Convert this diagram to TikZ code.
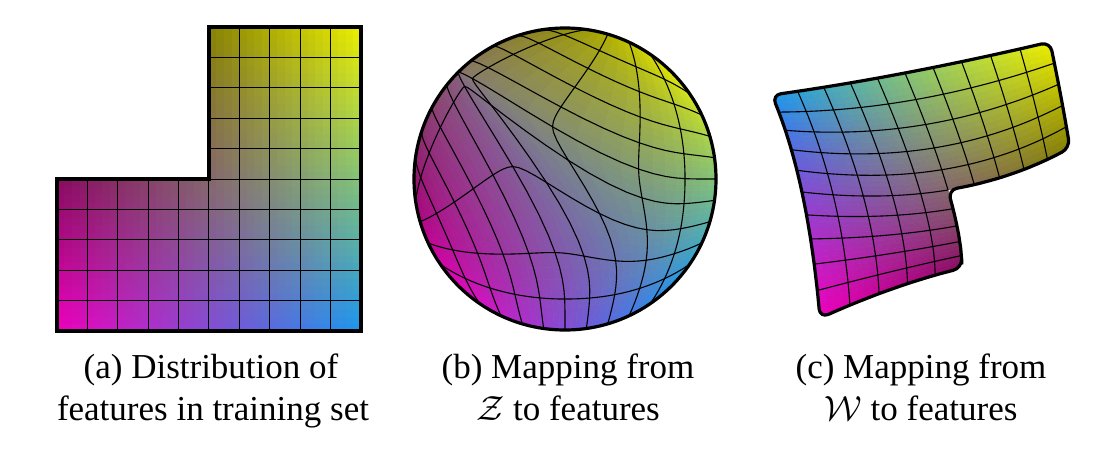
\RequirePackage{fix-cm}
\documentclass[tikz,border=0pt]{standalone}
\usepackage{fontspec}
\setmainfont{Liberation Serif}
\usepackage{amsmath}
\usepackage{tikz}

\newcommand{\mixcolor}[2]{%
\pgfmathsetmacro\mixu{#1}\pgfmathsetmacro\mixv{#2}%
\pgfmathsetmacro\mixr{(1-\mixu)*(1-\mixv)*0.94+\mixu*(1-\mixv)*0.10+\mixu*\mixv*0.93+(1-\mixu)*\mixv*0.12}%
\pgfmathsetmacro\mixg{\mixu*(1-\mixv)*0.59+\mixu*\mixv*0.94+(1-\mixu)*\mixv*0.08}%
\pgfmathsetmacro\mixb{(1-\mixu)*(1-\mixv)*0.74+\mixu*(1-\mixv)*0.94+(1-\mixu)*\mixv*0.02}%
\definecolor{mixc}{rgb}{\mixr,\mixg,\mixb}}

\newcommand{\zmappt}[2]{%
\pgfmathsetmacro\zu{#1}\pgfmathsetmacro\zv{#2}%
\pgfmathsetmacro\zsu{pow(abs(sin(180*\zu)),5)}\pgfmathsetmacro\zsv{pow(abs(sin(180*\zv)),5)}%
\pgfmathsetmacro\zTu{(1.0112-sqrt((2*\zu-1)*(2*\zu-1)+0.0225))/0.8612}%
\pgfmathsetmacro\zTv{(1.0112-sqrt((2*\zv-1)*(2*\zv-1)+0.0225))/0.8612}%
\pgfmathsetmacro\za{\zv<0.5 ? \zsv : \zTv}\pgfmathsetmacro\zb{\zu<0.5 ? \zTu : \zsu}%
\pgfmathsetmacro\zc{\zu<0.5 ? 1 : \zsu}\pgfmathsetmacro\zs{\zv>0.5 ? 1 : \zsv}%
\pgfmathsetmacro\zuu{\zu-\za*\zu*\zc}\pgfmathsetmacro\zvv{\zv+\zb*(1-\zv)*\zs}%
\pgfmathsetmacro\zS{2*\zuu-1}\pgfmathsetmacro\zT{2*\zvv-1}%
\pgfmathsetmacro\Px{\zS*sqrt(1-\zT*\zT/2)}\pgfmathsetmacro\Py{\zT*sqrt(1-\zS*\zS/2)}}

\newcommand{\quadpt}[2]{%
\pgfmathsetmacro\qu{#1}\pgfmathsetmacro\qv{#2}%
\pgfmathsetmacro\wua{2*(\qu-0.5)*(\qu-1)}\pgfmathsetmacro\wub{-4*\qu*(\qu-1)}\pgfmathsetmacro\wuc{2*\qu*(\qu-0.5)}%
\pgfmathsetmacro\wva{2*(\qv-0.5)*(\qv-1)}\pgfmathsetmacro\wvb{-4*\qv*(\qv-1)}\pgfmathsetmacro\wvc{2*\qv*(\qv-0.5)}%
\pgfmathsetmacro\Px{\wua*(\wva*820+\wvb*962+\wvc*1085)+\wub*(\wva*802+\wvb*948+\wvc*1070)+\wuc*(\wva*772+\wvb*905+\wvc*1050)}%
\pgfmathsetmacro\Py{\wua*(\wva*318+\wvb*268+\wvc*255)+\wub*(\wva*192+\wvb*190+\wvc*148)+\wuc*(\wva*95+\wvb*73+\wvc*42)}}

\tikzset{
  outline/.style={line width=3.2pt},
  gridline/.style={line width=1.1pt},
  patch/.style={fill=mixc,draw=mixc,line width=0.5pt},
  captext/.style={anchor=base,inner sep=0pt,font=\fontsize{35}{42}\selectfont}
}

\begin{document}
\begin{tikzpicture}[x=1pt,y=-1pt]
\useasboundingbox (0,0) rectangle (1120,450);

% (a) training set
\foreach \i in {0,...,39}{\foreach \j in {0,...,19}{
  \mixcolor{(\i+0.5)/40}{(\j+0.5)/40}
  \filldraw[patch] ({57+7.6*\i},{331-7.6*\j}) rectangle ++(7.6,-7.6);}}
\foreach \i in {20,...,39}{\foreach \j in {20,...,39}{
  \mixcolor{(\i+0.5)/40}{(\j+0.5)/40}
  \filldraw[patch] ({57+7.6*\i},{331-7.6*\j}) rectangle ++(7.6,-7.6);}}
\foreach \k in {1,...,4} \draw[gridline] ({floor(57+30.4*\k)+0.5},331) -- ({floor(57+30.4*\k)+0.5},179);
\foreach \k in {5,...,9} \draw[gridline] ({floor(57+30.4*\k)+0.5},331) -- ({floor(57+30.4*\k)+0.5},27);
\foreach \k in {1,...,5} \draw[gridline] (57,{floor(331-30.4*\k)+0.5}) -- (361,{floor(331-30.4*\k)+0.5});
\foreach \k in {6,...,9} \draw[gridline] (209,{floor(331-30.4*\k)+0.5}) -- (361,{floor(331-30.4*\k)+0.5});
\coordinate (a0) at (57,331);
\coordinate (a1) at (361,331);
\coordinate (a2) at (361,27);
\coordinate (a3) at (209,27);
\coordinate (a4) at (209,179);
\coordinate (a5) at (57,179);
\draw[outline] (a0) -- (a1) -- (a2) -- (a3) -- (a4) -- (a5) -- cycle;

% (b) Z space
\coordinate (bO) at (565,179);
\foreach \pn/\uo/\vo in {1/0/0,2/0.5/0,3/0.5/0.5}{
  \foreach \i in {0,...,20}{\foreach \j in {0,...,20}{
    \zmappt{\uo+\i/40}{\vo+\j/40}
    \coordinate (b\pn-\i-\j) at ({565+151*\Px},{179-151*\Py});}}}
\foreach \pn/\uo/\vo in {1/0/0,2/0.5/0,3/0.5/0.5}{
  \foreach \i [count=\ii] in {0,...,19}{\foreach \j [count=\jj] in {0,...,19}{
    \mixcolor{\uo+(\i+0.5)/40}{\vo+(\j+0.5)/40}
    \filldraw[patch] (b\pn-\i-\j) -- (b\pn-\ii-\j) -- (b\pn-\ii-\jj) -- (b\pn-\i-\jj) -- cycle;}}}
\foreach \i in {4,8,12,16,20}
  \draw[gridline] (b1-\i-0) \foreach \j in {1,...,20}{-- (b1-\i-\j)};
\foreach \i in {4,8,12,16}
  \draw[gridline] (b2-\i-0) \foreach \j in {1,...,20}{-- (b2-\i-\j)} \foreach \j in {1,...,20}{-- (b3-\i-\j)};
\foreach \j in {4,8,12,16}
  \draw[gridline] (b1-0-\j) \foreach \i in {1,...,20}{-- (b1-\i-\j)} \foreach \i in {1,...,20}{-- (b2-\i-\j)};
\foreach \j in {4,8,12,16}
  \draw[gridline] (b3-0-\j) \foreach \i in {1,...,20}{-- (b3-\i-\j)};
\draw[gridline] (b2-0-20) \foreach \i in {1,...,20}{-- (b2-\i-20)};
\draw[outline] (bO) circle[radius=151];

% (c) W space
\foreach \pn/\uo/\vo in {1/0/0,2/0.5/0,3/0.5/0.5}{
  \foreach \i in {0,...,20}{\foreach \j in {0,...,20}{
    \quadpt{\uo+\i/40}{\vo+\j/40}
    \coordinate (c\pn-\i-\j) at (\Px,\Py);}}}
\begin{scope}
\clip[rounded corners=9pt] (c1-0-0) \foreach \i in {4,8,...,20}{-- (c1-\i-0)} \foreach \i in {4,8,...,20}{-- (c2-\i-0)}
  \foreach \j in {4,8,...,20}{-- (c2-20-\j)} \foreach \j in {4,8,...,20}{-- (c3-20-\j)}
  \foreach \i in {16,12,...,0}{-- (c3-\i-20)} \foreach \j in {16,12,...,0}{-- (c3-0-\j)}
  \foreach \i in {16,12,...,0}{-- (c1-\i-20)} \foreach \j in {16,12,...,4}{-- (c1-0-\j)} -- cycle;
\foreach \pn/\uo/\vo in {1/0/0,2/0.5/0,3/0.5/0.5}{
  \foreach \i [count=\ii] in {0,...,19}{\foreach \j [count=\jj] in {0,...,19}{
    \mixcolor{\uo+(\i+0.5)/40}{\vo+(\j+0.5)/40}
    \filldraw[patch] (c\pn-\i-\j) -- (c\pn-\ii-\j) -- (c\pn-\ii-\jj) -- (c\pn-\i-\jj) -- cycle;}}}
\foreach \i in {4,8,12,16,20}
  \draw[gridline] (c1-\i-0) \foreach \j in {1,...,20}{-- (c1-\i-\j)};
\foreach \i in {4,8,12,16}
  \draw[gridline] (c2-\i-0) \foreach \j in {1,...,20}{-- (c2-\i-\j)} \foreach \j in {1,...,20}{-- (c3-\i-\j)};
\foreach \j in {4,8,12,16}
  \draw[gridline] (c1-0-\j) \foreach \i in {1,...,20}{-- (c1-\i-\j)} \foreach \i in {1,...,20}{-- (c2-\i-\j)};
\foreach \j in {4,8,12,16}
  \draw[gridline] (c3-0-\j) \foreach \i in {1,...,20}{-- (c3-\i-\j)};
\draw[gridline] (c2-0-20) \foreach \i in {1,...,20}{-- (c2-\i-20)};
\end{scope}
\draw[outline,rounded corners=9pt] (c1-0-0) \foreach \i in {4,8,...,20}{-- (c1-\i-0)} \foreach \i in {4,8,...,20}{-- (c2-\i-0)}
  \foreach \j in {4,8,...,20}{-- (c2-20-\j)} \foreach \j in {4,8,...,20}{-- (c3-20-\j)}
  \foreach \i in {16,12,...,0}{-- (c3-\i-20)} \foreach \j in {16,12,...,0}{-- (c3-0-\j)}
  \foreach \i in {16,12,...,0}{-- (c1-\i-20)} \foreach \j in {16,12,...,4}{-- (c1-0-\j)} -- cycle;

% captions
\node[captext] (capa1) at (211,378) {(a) Distribution of};
\node[captext] (capa2) at (213,420) {features in training set};
\node[captext] (capb1) at (568,378) {(b) Mapping from};
\node[captext] (capb2) at (568,420) {$\mathcal{Z}$ to features};
\node[captext] (capc1) at (921,378) {(c) Mapping from};
\node[captext] (capc2) at (921,420) {$\mathcal{W}$ to features};
\end{tikzpicture}
\end{document}
